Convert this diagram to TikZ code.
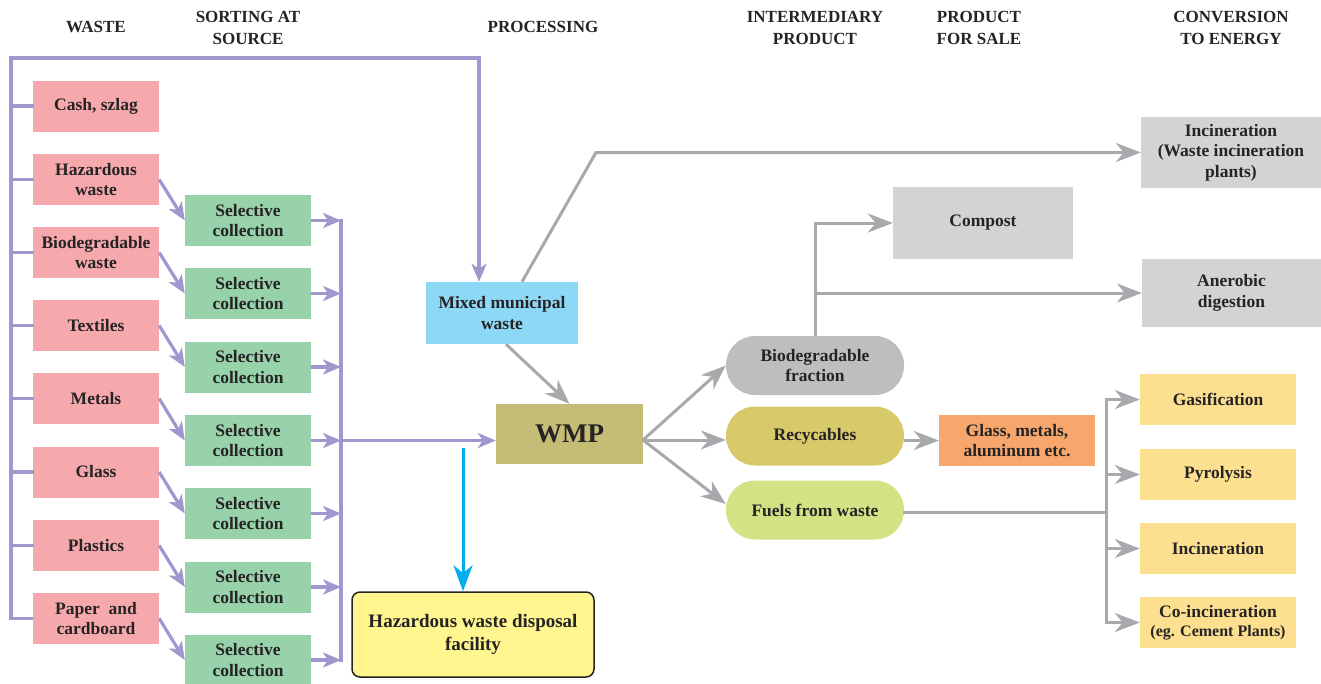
\documentclass[tikz,border=0pt]{standalone}
\usepackage{fontspec}
\setmainfont{Liberation Serif}
\usetikzlibrary{arrows.meta}
\definecolor{textc}{HTML}{262324}
\definecolor{pinkc}{HTML}{F6A9AD}
\definecolor{greenc}{HTML}{98D2AA}
\definecolor{purp}{HTML}{9F97CD}
\definecolor{grayl}{HTML}{A7A9AC}
\definecolor{lblue}{HTML}{8DD8F6}
\definecolor{wmpc}{HTML}{C5BD76}
\definecolor{boxgray}{HTML}{D1D3D4}
\definecolor{biogray}{HTML}{BCBEC0}
\definecolor{recycc}{HTML}{D8C96B}
\definecolor{fuelc}{HTML}{D4E285}
\definecolor{orangec}{HTML}{F7A76C}
\definecolor{yellowe}{HTML}{FDE08F}
\definecolor{hazfill}{HTML}{FFF68F}
\definecolor{arrblue}{HTML}{00AEEF}
\begin{document}
\begin{tikzpicture}[x=1pt,y=-1pt,
  txt/.style={font=\bfseries\fontsize{17.5}{20.5}\selectfont, text=textc, align=center, inner sep=0pt},
  hdr/.style={font=\bfseries\fontsize{17}{22}\selectfont, text=textc, align=center, inner sep=0pt},
  wbox/.style={txt, fill=pinkc, minimum width=126pt, minimum height=51pt},
  gbox/.style={txt, fill=greenc, minimum width=126pt, minimum height=51pt},
  ebox/.style={txt, fill=yellowe, minimum width=156pt, minimum height=51pt},
  pill/.style={txt, minimum width=178pt, minimum height=59pt, rounded corners=29pt},
  pline/.style={draw=purp, line width=3.2pt, line cap=rect},
  parrow/.style={draw=purp, line width=3.2pt, -{Stealth[length=18pt,width=15pt,inset=5pt]}},
  gline/.style={draw=grayl, line width=3pt, line cap=rect},
  garrow/.style={draw=grayl, line width=3pt, -{Stealth[length=25pt,width=19pt,inset=8pt]}},
  barrow/.style={draw=arrblue, line width=3pt, -{Stealth[length=26pt,width=19pt,inset=8pt]}}
]
\useasboundingbox (0,0) rectangle (1321,683);

% headers
\node[hdr] (hwaste) at (96,27) {WASTE};
\node[hdr] (hsort) at (248,28) {SORTING AT\\SOURCE};
\node[hdr] (hproc) at (543,27) {PROCESSING};
\node[hdr] (hinter) at (815,28) {INTERMEDIARY\\PRODUCT};
\node[hdr] (hsale) at (979,28) {PRODUCT\\FOR SALE};
\node[hdr] (hconv) at (1231,28) {CONVERSION\\TO ENERGY};

% waste
\node[wbox] (cash) at (96,106) {Cash, szlag};
\node[wbox] (haz) at (96,179.5) {Hazardous\\waste};
\node[wbox] (wbio) at (96,252.5) {Biodegradable\\waste};
\node[wbox] (tex) at (96,325.5) {Textiles};
\node[wbox] (met) at (96,398.5) {Metals};
\node[wbox] (gla) at (96,472) {Glass};
\node[wbox] (pla) at (96,545.5) {Plastics};
\node[wbox] (pap) at (96,618.5) {Paper\enspace and\\cardboard};

% selective collection
\node[gbox] (g1) at (248,220.5) {Selective\\collection};
\node[gbox] (g2) at (248,293.5) {Selective\\collection};
\node[gbox] (g3) at (248,367) {Selective\\collection};
\node[gbox] (g4) at (248,440.5) {Selective\\collection};
\node[gbox] (g5) at (248,513.5) {Selective\\collection};
\node[gbox] (g6) at (248,587) {Selective\\collection};
\node[gbox] (g7) at (248,660) {Selective\\collection};

% processing
\node[txt, fill=lblue, minimum width=152pt, minimum height=62pt] (mixed) at (502,313) {Mixed municipal\\waste};
\node[txt, fill=wmpc, minimum width=147pt, minimum height=60pt, font=\bfseries\fontsize{27}{30}\selectfont] (wmp) at (569.5,434) {WMP};
\node[txt, fill=hazfill, draw=textc, line width=1.5pt, rounded corners=8pt, minimum width=242pt, minimum height=85pt, font=\bfseries\fontsize{19}{23}\selectfont] (hfac) at (473,634.5) {Hazardous waste disposal\\facility};

% intermediary
\node[pill, fill=biogray] (pbio) at (815,365.5) {Biodegradable\\fraction};
\node[pill, fill=recycc] (recyc) at (815,436) {Recycables};
\node[pill, fill=fuelc] (fuels) at (815,510) {Fuels from waste};

% product / energy
\node[txt, fill=boxgray, minimum width=180pt, minimum height=72pt] (compost) at (983,223) {Compost};
\node[txt, fill=boxgray, minimum width=179pt, minimum height=68pt] (anaer) at (1231.5,293) {Anerobic\\digestion};
\node[txt, fill=boxgray, minimum width=180pt, minimum height=71pt] (incin) at (1231,152.5) {Incineration\\(Waste incineration\\plants)};
\node[txt, fill=orangec, minimum width=156pt, minimum height=51pt] (glass) at (1017,440.5) {Glass, metals,\\aluminum etc.};
\node[ebox] (gas) at (1218,399.5) {Gasification};
\node[ebox] (pyro) at (1218,474.5) {Pyrolysis};
\node[ebox] (inc2) at (1218,548.5) {Incineration};
\node[ebox, font=\bfseries\fontsize{17.5}{19}\selectfont] (coinc) at (1218,622.5) {Co-incineration\\{\fontsize{16}{19}\selectfont(eg. Cement Plants)}};

% purple connectors
\coordinate (busL) at (11,58);
\coordinate (busR) at (341,0);
\draw[parrow] (pap.west) -| (busL) -| ([xshift=-23pt]mixed.north);
\foreach \n in {cash,haz,wbio,tex,met,gla,pla}
  \draw[pline] (\n.west) -- (\n.west -| busL);
\foreach \w/\g in {haz/g1,wbio/g2,tex/g3,met/g4,gla/g5,pla/g6,pap/g7}
  \draw[parrow] (\w.east) -- (\g.west);
\foreach \g in {g1,g2,g3,g4,g5,g6,g7}
  \draw[parrow] (\g.east) -- (\g.east -| busR);
\draw[pline] (g1.east -| busR) -- (g7.east -| busR);
\draw[parrow] (g4.east -| busR) -- (wmp.west |- g4.east);

% blue
\coordinate (bs) at (463,448);
\draw[barrow] (bs) -- (bs |- hfac.north);

% gray connectors
\draw[garrow] ([xshift=4pt]mixed.south) -- (wmp.north);
\coordinate (bend) at (596,152.5);
\draw[garrow] ([xshift=20pt]mixed.north) -- (bend) -- (incin.west);
\coordinate (fan) at (643,440);
\draw[garrow] (fan) -- (pbio.west);
\draw[garrow] (fan) -- (fan -| recyc.west);
\draw[garrow] (fan) -- ([yshift=6pt]fuels.west);
\draw[garrow] (pbio.north) |- (compost.west);
\draw[garrow] (pbio.north |- anaer.west) -- (anaer.west);
\draw[garrow] (recyc.east |- glass.west) -- (glass.west);
\coordinate (busE) at (1106,0);
\draw[gline] ([yshift=-2pt]fuels.east) -- ([yshift=-2pt]fuels.east -| busE);
\draw[gline] (busE |- gas.west) -- (busE |- coinc.west);
\foreach \e in {gas,pyro,inc2,coinc}
  \draw[garrow] (busE |- \e.west) -- (\e.west);
\end{tikzpicture}
\end{document}
